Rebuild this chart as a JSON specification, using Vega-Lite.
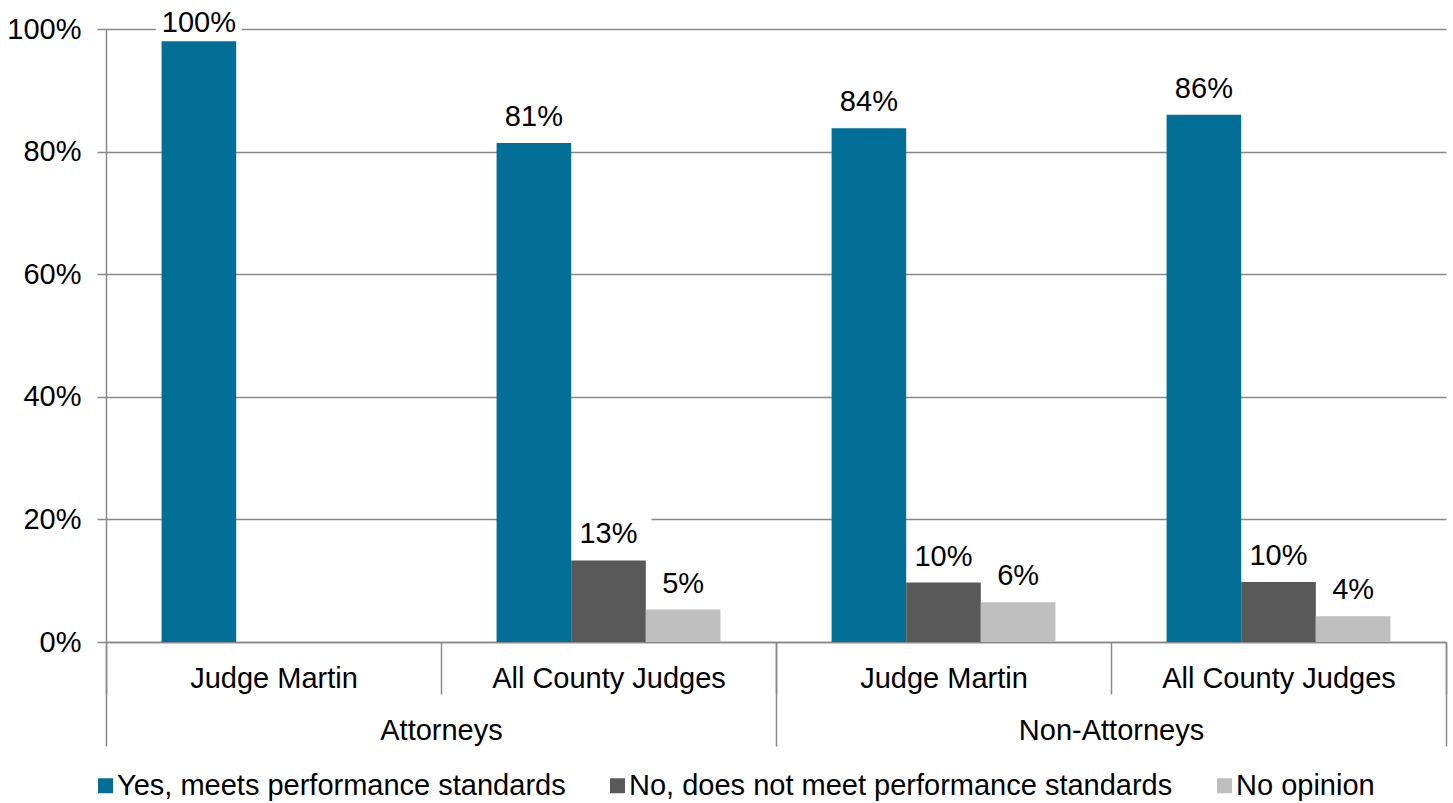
{
  "$schema": "https://vega.github.io/schema/vega-lite/v6.json",
  "width": 1340,
  "height": 613,
  "autosize": {"type": "none"},
  "padding": {"left": 106, "top": 29, "right": 7, "bottom": 161},
  "background": "white",
  "config": {
    "view": {"stroke": null},
    "font": "Liberation Sans",
    "axis": {"labelFont": "Liberation Sans", "labelColor": "black"},
    "legend": {"labelFont": "Liberation Sans", "labelColor": "black"}
  },
  "layer": [
    {
      "data": {
        "values": [
          {"group": "Attorneys", "key": "Attorneys|Judge Martin", "series": "Yes, meets performance standards", "value": 98.0, "label": "100%"},
          {"group": "Attorneys", "key": "Attorneys|All County Judges", "series": "Yes, meets performance standards", "value": 81.4, "label": "81%"},
          {"group": "Attorneys", "key": "Attorneys|All County Judges", "series": "No, does not meet performance standards", "value": 13.3, "label": "13%"},
          {"group": "Attorneys", "key": "Attorneys|All County Judges", "series": "No opinion", "value": 5.3, "label": "5%"},
          {"group": "Non-Attorneys", "key": "Non-Attorneys|Judge Martin", "series": "Yes, meets performance standards", "value": 83.8, "label": "84%"},
          {"group": "Non-Attorneys", "key": "Non-Attorneys|Judge Martin", "series": "No, does not meet performance standards", "value": 9.7, "label": "10%"},
          {"group": "Non-Attorneys", "key": "Non-Attorneys|Judge Martin", "series": "No opinion", "value": 6.5, "label": "6%"},
          {"group": "Non-Attorneys", "key": "Non-Attorneys|All County Judges", "series": "Yes, meets performance standards", "value": 86.0, "label": "86%"},
          {"group": "Non-Attorneys", "key": "Non-Attorneys|All County Judges", "series": "No, does not meet performance standards", "value": 9.8, "label": "10%"},
          {"group": "Non-Attorneys", "key": "Non-Attorneys|All County Judges", "series": "No opinion", "value": 4.2, "label": "4%"}
        ]
      },
      "layer": [
        {
          "mark": {"type": "point", "shape": "M-1,-0.4H1V0.4H-1Z", "filled": true, "fill": "white", "opacity": 1, "strokeWidth": 0, "size": 7396, "yOffset": {"expr": "datum.value > 95 ? -20 : -27.5"}},
          "encoding": {
            "x": {"field": "key", "type": "nominal", "sort": null, "scale": {"domain": ["Attorneys|Judge Martin", "Attorneys|All County Judges", "Non-Attorneys|Judge Martin", "Non-Attorneys|All County Judges"], "paddingInner": 0, "paddingOuter": 0}},
            "xOffset": {"field": "series", "type": "nominal", "scale": {"domain": ["Yes, meets performance standards", "No, does not meet performance standards", "No opinion"], "paddingInner": 0, "paddingOuter": 0.745}},
            "y": {"field": "value", "type": "quantitative", "scale": {"domain": [0, 100], "nice": false}}
          }
        },
        {
          "mark": {"type": "bar"},
          "encoding": {
            "x": {
              "field": "key", "type": "nominal", "sort": null,
              "scale": {"domain": ["Attorneys|Judge Martin", "Attorneys|All County Judges", "Non-Attorneys|Judge Martin", "Non-Attorneys|All County Judges"], "paddingInner": 0, "paddingOuter": 0},
              "axis": {
                "orient": "bottom",
                "title": null, "labelExpr": "split(datum.value, '|')[1]", "labelAngle": 0, "labelAlign": "center", "labelLimit": 0, "labelBound": false,
                "labelFontSize": 29, "labelPadding": -16, "labelColor": "black",
                "domain": true, "domainColor": "#888888", "domainWidth": 1.5,
                "ticks": true, "tickBand": "extent", "tickSize": 52, "tickColor": "#888888", "tickWidth": 1.5,
                "grid": false
              }
            },
            "xOffset": {"field": "series", "type": "nominal", "scale": {"domain": ["Yes, meets performance standards", "No, does not meet performance standards", "No opinion"], "paddingInner": 0, "paddingOuter": 0.745}},
            "y": {
              "field": "value", "type": "quantitative",
              "scale": {"domain": [0, 100], "nice": false},
              "axis": {
                "title": null, "values": [0, 20, 40, 60, 80, 100], "labelExpr": "datum.value + '%'",
                "labelFontSize": 29, "labelPadding": 16, "labelColor": "black",
                "grid": true, "gridColor": "#888888", "gridWidth": 1.5,
                "domain": true, "domainColor": "#888888", "domainWidth": 1.5,
                "ticks": true, "tickSize": 9, "tickColor": "#888888", "tickWidth": 1.5
              }
            },
            "color": {
              "field": "series", "type": "nominal",
              "scale": {"domain": ["Yes, meets performance standards", "No, does not meet performance standards", "No opinion"], "range": ["#036F96", "#595959", "#BFBFBF"]},
              "legend": {
                "orient": "none", "legendX": -15, "legendY": 742, "direction": "horizontal", "title": null,
                "symbolType": "square", "symbolSize": 225, "symbolStrokeWidth": 0, "symbolOpacity": 1,
                "labelFontSize": 29, "labelColor": "black", "labelLimit": 0, "labelOffset": -3, "columnPadding": 37
              }
            }
          }
        },
        {
          "mark": {"type": "text", "fontSize": 29, "font": "Liberation Sans", "color": "black", "baseline": "middle", "dy": {"expr": "datum.value > 95 ? -18.5 : -26"}},
          "encoding": {
            "x": {"field": "key", "type": "nominal", "sort": null, "scale": {"domain": ["Attorneys|Judge Martin", "Attorneys|All County Judges", "Non-Attorneys|Judge Martin", "Non-Attorneys|All County Judges"], "paddingInner": 0, "paddingOuter": 0}},
            "xOffset": {"field": "series", "type": "nominal", "scale": {"domain": ["Yes, meets performance standards", "No, does not meet performance standards", "No opinion"], "paddingInner": 0, "paddingOuter": 0.745}},
            "y": {"field": "value", "type": "quantitative", "scale": {"domain": [0, 100], "nice": false}},
            "text": {"field": "label"}
          }
        }
      ]
    },
    {
      "data": {"values": [{"group": "Attorneys"}, {"group": "Non-Attorneys"}]},
      "mark": {"type": "point", "opacity": 0},
      "encoding": {
        "x": {
          "field": "group", "type": "nominal", "sort": null,
          "scale": {"domain": ["Attorneys", "Non-Attorneys"], "paddingInner": 0, "paddingOuter": 0},
          "axis": {
            "orient": "bottom",
            "title": null, "labelAngle": 0, "labelAlign": "center", "labelLimit": 0, "labelBound": false,
            "labelFontSize": 29, "labelPadding": -30, "labelColor": "black",
            "domain": false, "ticks": true, "tickBand": "extent", "tickSize": 104, "tickColor": "#888888", "tickWidth": 1.5,
            "grid": false
          }
        }
      }
    }
  ],
  "resolve": {"scale": {"x": "independent"}, "axis": {"x": "independent"}}
}
